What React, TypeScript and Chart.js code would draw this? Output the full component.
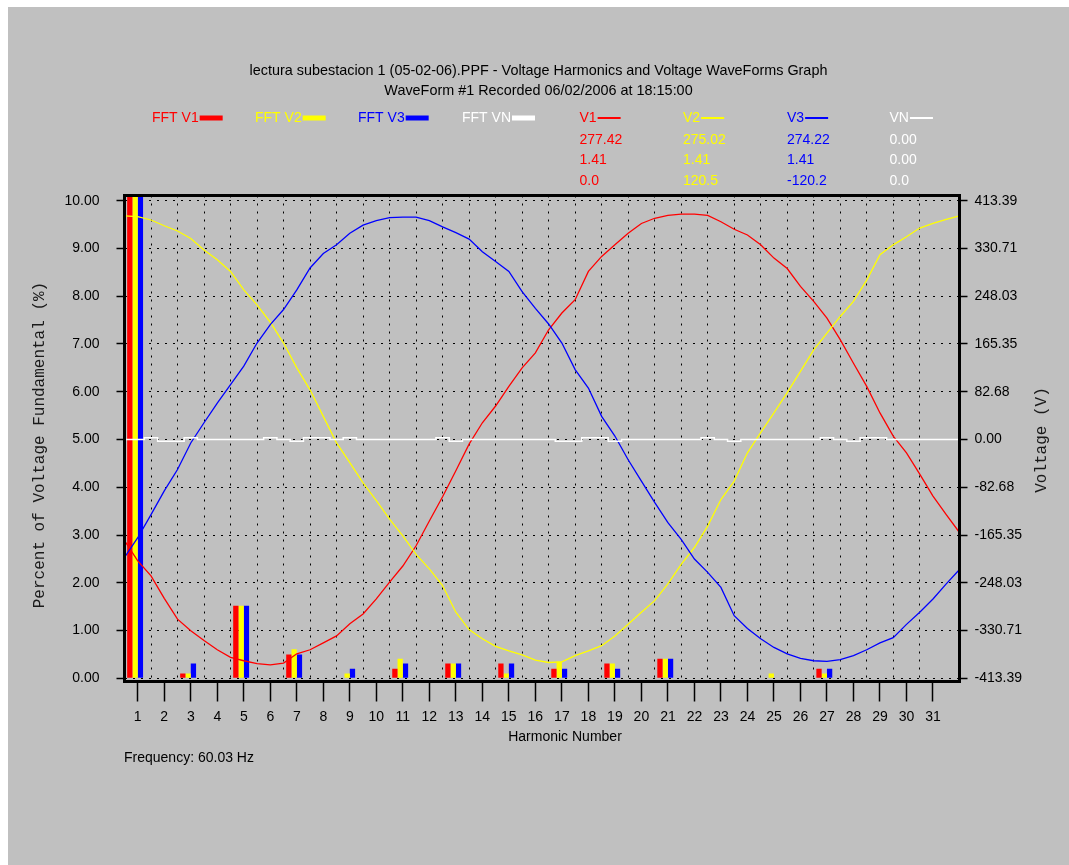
import { useEffect, useRef } from 'react';
import { Chart, registerables } from 'chart.js';

Chart.register(...registerables);

// ---------- data ----------
const HARMONICS = [1, 2, 3, 4, 5, 6, 7, 8, 9, 10, 11, 12, 13, 14, 15, 16, 17, 18, 19, 20, 21, 22, 23, 24, 25, 26, 27, 28, 29, 30, 31];

const FFT_V1 = [100, 0, 0.1, 0, 1.52, 0, 0.5, 0, 0, 0, 0.2, 0, 0.31, 0, 0.31, 0, 0.2, 0, 0.31, 0, 0.41, 0, 0, 0, 0, 0, 0.2, 0, 0, 0, 0];
const FFT_V2 = [100, 0, 0.1, 0, 1.52, 0, 0.61, 0, 0.1, 0, 0.41, 0, 0.31, 0, 0.1, 0, 0.35, 0, 0.31, 0, 0.41, 0, 0, 0, 0.1, 0, 0.1, 0, 0, 0, 0];
const FFT_V3 = [100, 0, 0.31, 0, 1.52, 0, 0.5, 0, 0.2, 0, 0.31, 0, 0.31, 0, 0.31, 0, 0.2, 0, 0.2, 0, 0.41, 0, 0, 0, 0, 0, 0.2, 0, 0, 0, 0];
const FFT_VN = [0, 0, 0, 0, 0, 0, 0, 0, 0, 0, 0, 0, 0, 0, 0, 0, 0, 0, 0, 0, 0, 0, 0, 0, 0, 0, 0, 0, 0, 0, 0];

// waveform samples (volts), 64 samples over one recorded cycle
const WAVE_V1 = [-175, -210, -236, -275, -311, -331, -348, -364, -377, -383, -388, -390, -387, -371, -364, -352,
  -340, -319, -302, -276, -247, -219, -184, -141, -99, -54, -8, 29, 58, 92, 124, 150,
  190, 219, 242, 291, 317, 337, 357, 374, 383, 388, 390, 390, 388, 377, 364, 354,
  337, 314, 296, 265, 239, 210, 173, 132, 92, 46, 6, -23, -60, -98, -130, -161];
const WAVE_V2 = [387, 386, 380, 370, 361, 348, 328, 311, 291, 259, 233, 203, 167, 124, 86, 40,
  -6, -40, -75, -106, -138, -167, -199, -224, -253, -299, -329, -345, -358, -366, -373, -382,
  -386, -385, -374, -366, -357, -340, -320, -299, -279, -250, -216, -187, -150, -104, -72, -23,
  12, 46, 81, 118, 155, 184, 213, 239, 276, 320, 337, 351, 366, 374, 381, 387];
const WAVE_V3 = [-204, -170, -130, -89, -52, -6, 29, 63, 95, 127, 167, 199, 225, 259, 297, 322,
  337, 357, 371, 379, 384, 385, 385, 379, 368, 358, 347, 325, 308, 291, 256, 227,
  200, 167, 121, 89, 40, 6, -35, -72, -109, -144, -173, -207, -230, -256, -305, -327,
  -345, -360, -371, -379, -383, -384, -381, -374, -364, -352, -343, -320, -299, -276, -250, -225];
const WAVE_VN = [0, 0, 3, -3, -3, 3, 0, 0, 0, 0, 0, 3, 0, -3, 3, 3,
  0, 3, 0, 0, 0, 0, 0, 0, 3, -3, 0, 0, 0, 0, 0, 0,
  0, -3, -3, 3, 3, -3, 0, 0, 0, 0, 0, 0, 3, 0, -3, 0,
  0, 0, 0, 0, 0, 3, 0, -3, 3, 3, 0, 0, 0, 0, 0, 0];

const PERCENT_TICKS = [0, 1, 2, 3, 4, 5, 6, 7, 8, 9, 10];
const PERCENT_LABELS = ['0.00', '1.00', '2.00', '3.00', '4.00', '5.00', '6.00', '7.00', '8.00', '9.00', '10.00'];
const VOLT_TICKS = [-413.39, -330.71, -248.03, -165.35, -82.68, 0, 82.68, 165.35, 248.03, 330.71, 413.39];
const VOLT_LABELS = ['-413.39', '-330.71', '-248.03', '-165.35', '-82.68', '0.00', '82.68', '165.35', '248.03', '330.71', '413.39'];
const GRID_X = [1.5, 2.5, 3.5, 4.5, 5.5, 6.5, 7.5, 8.5, 9.5, 10.5, 11.5, 12.5, 13.5, 14.5, 15.5, 16.5, 17.5, 18.5, 19.5, 20.5, 21.5, 22.5, 23.5, 24.5, 25.5, 26.5, 27.5, 28.5, 29.5, 30.5];

const TITLE_LINES = ['lectura subestacion 1 (05-02-06).PPF - Voltage Harmonics and Voltage WaveForms Graph', 'WaveForm #1 Recorded 06/02/2006 at 18:15:00'];
const FFT_LEGEND = ['FFT V1', 'FFT V2', 'FFT V3', 'FFT VN'];
const WAVE_LEGEND = ['V1', 'V2', 'V3', 'VN'];
const RMS_VALUES = ['277.42', '275.02', '274.22', '0.00'];
const PEAK_FACTORS = ['1.41', '1.41', '1.41', '0.00'];
const PHASE_ANGLES = ['0.0', '120.5', '-120.2', '0.0'];
const FREQUENCY_TEXT = 'Frequency: 60.03 Hz';
const X_TITLE = 'Harmonic Number';
const Y_TITLE = 'Percent of Voltage Fundamental (%)';
const Y2_TITLE = 'Voltage (V)';

// ---------- styling / layout ----------
const COLORS = ['#ff0000', '#ffff00', '#0000ff', '#ffffff'];
const SANS = '"Liberation Sans", Arial, sans-serif';
const MONO = '"Liberation Mono", "Courier New", monospace';
const W = 1061;
const H = 858;
const X_MIN = 0.5;
const X_MAX = 32;
const Y_MIN = -0.067;
const Y_MAX = 10.109;
const VOLT_SCALE = 413.39 / 5;
const BAR_SLOT = 0.2; // width of one bar in harmonic units
const BAR_SHIFT = [-1.5, -0.5, 0.5, 1.5]; // slot offsets of V1, V2, V3, VN bars in a group

const textPlugin = {
  id: 'customTexts',
  afterDatasetsDraw(chart: any) {
    const { ctx, chartArea } = chart;
    ctx.save();
    ctx.strokeStyle = '#000';
    ctx.lineWidth = 3;
    ctx.strokeRect(chartArea.left, chartArea.top, chartArea.right - chartArea.left, chartArea.bottom - chartArea.top);
    ctx.restore();
  },
  afterDraw(chart: any) {
    const ctx = chart.ctx;
    ctx.save();
    ctx.font = `14px ${SANS}`;
    ctx.textBaseline = 'middle';
    ctx.textAlign = 'left';
    // FFT legend
    const fftX = [144, 247, 350, 454];
    FFT_LEGEND.forEach((t, i) => {
      ctx.fillStyle = COLORS[i];
      ctx.fillText(t, fftX[i], 111);
      const w = ctx.measureText(t).width;
      ctx.fillRect(fftX[i] + w + 1, 108.5, 23, 5);
    });
    // waveform legend + values
    const colX = [571.5, 675, 779, 881.5];
    WAVE_LEGEND.forEach((t, i) => {
      ctx.fillStyle = COLORS[i];
      ctx.fillText(t, colX[i], 111);
      const w = ctx.measureText(t).width;
      ctx.fillRect(colX[i] + w + 1, 110, 23, 2);
      ctx.fillText(RMS_VALUES[i], colX[i], 133);
      ctx.fillText(PEAK_FACTORS[i], colX[i], 153);
      ctx.fillText(PHASE_ANGLES[i], colX[i], 174.5);
    });
    // footer texts
    ctx.fillStyle = '#000';
    ctx.fillText(FREQUENCY_TEXT, 116, 751);
    ctx.textAlign = 'center';
    ctx.fillText(X_TITLE, 557, 730);
    // rotated axis titles
    ctx.font = `16px ${MONO}`;
    ctx.fillStyle = '#1a1a1a';
    ctx.save();
    ctx.translate(32, 438);
    ctx.rotate(-Math.PI / 2);
    ctx.fillText(Y_TITLE, 0, 0);
    ctx.restore();
    ctx.save();
    ctx.translate(1034, 433);
    ctx.rotate(-Math.PI / 2);
    ctx.fillText(Y2_TITLE, 0, 0);
    ctx.restore();
    ctx.restore();
  },
};

export default function App() {
  const ref = useRef<HTMLCanvasElement>(null);
  useEffect(() => {
    if (!ref.current) return;
    const fftSets = [FFT_V1, FFT_V2, FFT_V3, FFT_VN];
    const waveSets = [WAVE_V1, WAVE_V2, WAVE_V3, WAVE_VN];
    const datasets: any[] = [];
    const barScales: any = {};
    const barPx = (BAR_SLOT * 835) / (X_MAX - X_MIN);
    fftSets.forEach((arr, k) => {
      const id = `xb${k}`;
      const shift = BAR_SHIFT[k] * BAR_SLOT;
      barScales[id] = {
        type: 'linear',
        display: false,
        min: X_MIN - shift,
        max: X_MAX - shift,
        offset: false,
        grid: { offset: false },
      };
      datasets.push({
        type: 'bar',
        label: FFT_LEGEND[k],
        data: HARMONICS.map((h, i) => ({ x: h, y: arr[i] })),
        xAxisID: id,
        yAxisID: 'y',
        backgroundColor: COLORS[k],
        borderWidth: 0,
        barThickness: barPx,
        grouped: false,
        inflateAmount: 0,
        order: 2,
      });
    });
    // waveforms drawn above bars
    [3, 2, 1, 0].forEach((k) => {
      datasets.push({
        type: 'line',
        label: WAVE_LEGEND[k],
        data: waveSets[k].map((v, i) => ({ x: i, y: v })),
        xAxisID: 'xw',
        yAxisID: 'yv',
        borderColor: COLORS[k],
        borderWidth: k === 3 ? 1.5 : 1.3,
        pointRadius: 0,
        tension: 0,
        stepped: k === 3 ? 'middle' : false,
        order: 1,
      });
    });

    const chart = new Chart(ref.current, {
      type: 'bar',
      data: { datasets },
      plugins: [textPlugin],
      options: {
        responsive: false,
        animation: false,
        devicePixelRatio: 1,
        layout: { padding: 0 },
        plugins: {
          legend: { display: false },
          tooltip: { enabled: false },
          title: {
            display: true,
            text: TITLE_LINES,
            color: '#000',
            font: { family: SANS, size: 14.4, weight: 'normal', lineHeight: 20 / 14.4 },
            padding: { top: 54.5, bottom: 94 },
          },
        },
        scales: {
          x: {
            type: 'linear',
            position: 'bottom',
            min: X_MIN,
            max: X_MAX,
            offset: false,
            afterBuildTicks: (s: any) => {
              s.ticks = HARMONICS.map((v) => ({ value: v }));
            },
            afterFit: (s: any) => {
              s.height = H - 674.5;
            },
            ticks: {
              autoSkip: false,
              maxRotation: 0,
              minRotation: 0,
              color: '#000',
              padding: 7,
              font: { family: SANS, size: 14 },
              callback: (v: any) => String(v),
            },
            grid: {
              offset: false,
              drawOnChartArea: false,
              drawTicks: true,
              tickLength: 20,
              tickColor: '#000',
              tickWidth: 1.5,
            },
            border: { display: false },
          },
          xg: {
            type: 'linear',
            position: 'bottom',
            min: X_MIN,
            max: X_MAX,
            offset: false,
            afterBuildTicks: (s: any) => {
              s.ticks = GRID_X.map((v) => ({ value: v }));
            },
            afterFit: (s: any) => {
              s.height = 0;
            },
            ticks: { display: false },
            grid: { offset: false, drawTicks: false, color: '#000', lineWidth: 1 },
            border: { display: false, dash: [2, 6] },
          },
          xw: {
            type: 'linear',
            display: false,
            min: 0,
            max: WAVE_V1.length - 1,
            offset: false,
            grid: { offset: false },
          },
          ...barScales,
          y: {
            type: 'linear',
            position: 'left',
            min: Y_MIN,
            max: Y_MAX,
            beginAtZero: false,
            afterBuildTicks: (s: any) => {
              s.ticks = PERCENT_TICKS.map((v) => ({ value: v }));
            },
            afterFit: (s: any) => {
              s.width = 116.5;
            },
            ticks: {
              color: '#000',
              padding: 17,
              font: { family: SANS, size: 14 },
              callback: (_v: any, i: number) => PERCENT_LABELS[i],
            },
            grid: {
              color: '#000',
              lineWidth: 1,
              tickLength: 8,
              tickColor: '#000',
              tickWidth: 1.5,
              tickBorderDash: [],
            },
            border: { display: false, dash: [2, 6] },
          },
          yv: {
            type: 'linear',
            position: 'right',
            min: (Y_MIN - 5) * VOLT_SCALE,
            max: (Y_MAX - 5) * VOLT_SCALE,
            afterBuildTicks: (s: any) => {
              s.ticks = VOLT_TICKS.map((v) => ({ value: v }));
            },
            afterFit: (s: any) => {
              s.width = W - 951.5;
            },
            ticks: {
              color: '#000',
              padding: 7,
              font: { family: SANS, size: 14 },
              callback: (_v: any, i: number) => VOLT_LABELS[i],
            },
            grid: {
              drawOnChartArea: false,
              tickLength: 8,
              tickColor: '#000',
              tickWidth: 1.5,
            },
            border: { display: false },
          },
        },
      } as any,
    });
    return () => chart.destroy();
  }, []);

  return (
    <div style={{ position: 'fixed', left: 8, top: 7, width: W, height: H, background: '#c0c0c0' }}>
      <canvas ref={ref} width={W} height={H} style={{ display: 'block', width: W, height: H }} />
    </div>
  );
}
